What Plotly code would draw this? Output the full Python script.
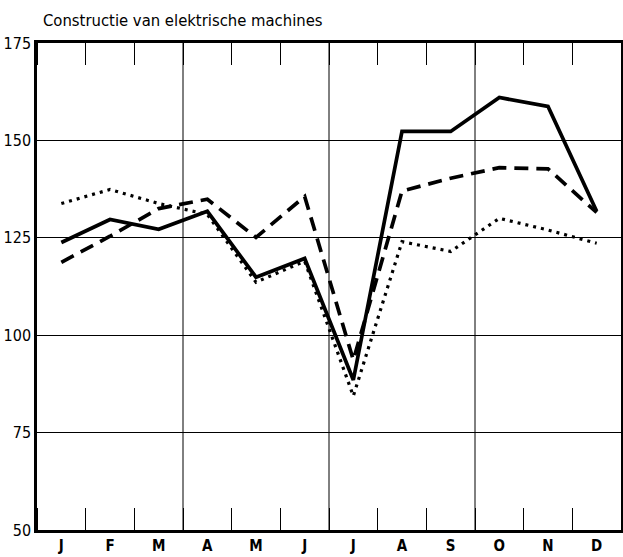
import plotly.graph_objects as go

months = ["J", "F", "M", "A", "M", "J", "J", "A", "S", "O", "N", "D"]
series_solid = [123.8, 129.7, 127.2, 131.8, 114.9, 119.7, 88.5, 152.3, 152.3, 161.0, 158.7, 131.8]
series_dashed = [118.7, 125.4, 132.5, 134.9, 125.1, 135.6, 93.6, 137.0, 140.3, 143.0, 142.7, 131.5]
series_dotted = [133.8, 137.4, 133.8, 131.0, 113.6, 119.0, 84.4, 124.0, 121.5, 130.0, 127.0, 123.6]
y_ticks = [50, 75, 100, 125, 150, 175]
quarter_bounds = [2.5, 5.5, 8.5]
title = "Constructie van elektrische machines"

FONT = "DejaVu Sans Condensed, Liberation Sans Narrow, sans-serif"
x = list(range(len(months)))

W, H = 623, 557

fig = go.Figure()
fig.add_trace(go.Scatter(x=x, y=series_dotted, mode="lines",
                         line=dict(color="black", width=3.2, dash="3px,5px")))
fig.add_trace(go.Scatter(x=x, y=series_dashed, mode="lines",
                         line=dict(color="black", width=3.7, dash="14px,8px")))
fig.add_trace(go.Scatter(x=x, y=series_solid, mode="lines",
                         line=dict(color="black", width=3.7)))

for b in quarter_bounds:
    fig.add_shape(type="line", xref="x", yref="paper", x0=b, x1=b, y0=0, y1=1,
                  line=dict(color="black", width=1), layer="below")

fig.update_layout(
    width=W, height=H,
    margin=dict(l=37, r=2, t=43, b=27),
    paper_bgcolor="white", plot_bgcolor="white",
    showlegend=False,
    font=dict(family=FONT, size=14, color="black"),
    title=dict(text=title, x=43/W, xanchor="left", xref="container",
               y=1 - 20/H, yanchor="middle", yref="container",
               font=dict(family=FONT, size=16.5, color="black")),
    xaxis=dict(range=[-0.5, 11.5], tickvals=x, ticktext=months, ticks="",
               showgrid=False, zeroline=False, automargin=False,
               showline=True, linewidth=3, linecolor="black", mirror="ticks",
               minor=dict(tick0=-0.5, dtick=1, ticks="inside", ticklen=22,
                          tickwidth=1.3, tickcolor="black", showgrid=False),
               tickfont=dict(family=FONT, size=15, weight="bold")),
    yaxis=dict(range=[50, 175], tickvals=y_ticks, ticks="",
               showgrid=True, gridcolor="black", gridwidth=1, zeroline=False,
               automargin=False,
               showline=True, linewidth=2.5, linecolor="black", mirror=True,
               tickfont=dict(family=FONT, size=16)),
)

fig.write_html("out.html", config={"displayModeBar": False},
               post_script="document.body.style.margin='0';")
